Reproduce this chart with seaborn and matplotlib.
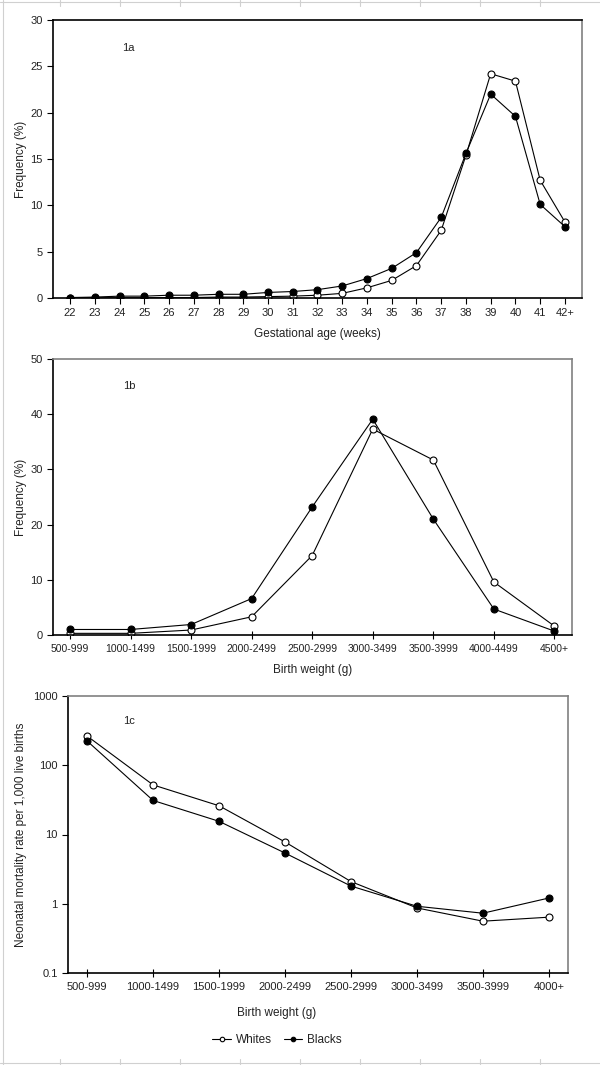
import numpy as np
import pandas as pd
import matplotlib
matplotlib.use('Agg')
import matplotlib.pyplot as plt
from matplotlib.lines import Line2D
import seaborn as sns

# Data
gest_weeks = ['22', '23', '24', '25', '26', '27', '28', '29', '30', '31', '32',
              '33', '34', '35', '36', '37', '38', '39', '40', '41', '42+']
gest_whites = [0.02, 0.02, 0.03, 0.03, 0.05, 0.05, 0.1, 0.1, 0.15, 0.2, 0.3,
               0.5, 1.1, 1.9, 3.5, 7.3, 15.4, 24.2, 23.4, 12.7, 8.2]
gest_blacks = [0.05, 0.1, 0.2, 0.2, 0.3, 0.3, 0.4, 0.4, 0.6, 0.7, 0.9,
               1.3, 2.1, 3.2, 4.9, 8.7, 15.6, 22.0, 19.6, 10.1, 7.7]

bw_groups = ['500-999', '1000-1499', '1500-1999', '2000-2499', '2500-2999',
             '3000-3499', '3500-3999', '4000-4499', '4500+']
bw_whites = [0.3, 0.3, 0.9, 3.3, 14.4, 37.3, 31.7, 9.6, 1.6]
bw_blacks = [1.0, 1.0, 1.9, 6.6, 23.2, 39.1, 21.0, 4.7, 0.7]

nmr_groups = ['500-999', '1000-1499', '1500-1999', '2000-2499', '2500-2999',
              '3000-3499', '3500-3999', '4000+']
nmr_whites = [264, 52, 26, 7.8, 2.09, 0.87, 0.56, 0.64]
nmr_blacks = [224, 31, 15.5, 5.4, 1.80, 0.92, 0.73, 1.21]

sns.set_style('white')
plt.rcParams['font.family'] = ['Liberation Sans', 'DejaVu Sans']
plt.rcParams['font.size'] = 8
txt = '#222222'

fig = plt.figure(figsize=(6, 10.65), dpi=100)
W, H = 600, 1065

# faint spreadsheet cell borders behind the chart
grid_c = '#d0d0d0'
fig.add_artist(Line2D([0, 1], [1 - 1.5 / H, 1 - 1.5 / H], color=grid_c, lw=0.8))
fig.add_artist(Line2D([0, 1], [2.5 / H, 2.5 / H], color=grid_c, lw=0.8))
fig.add_artist(Line2D([2.5 / W, 2.5 / W], [0, 1], color=grid_c, lw=0.8))
for gx in range(60, 600, 60):
    fig.add_artist(Line2D([gx / W, gx / W], [1, 1 - 6 / H], color=grid_c, lw=0.8))
    fig.add_artist(Line2D([gx / W, gx / W], [0, 6 / H], color=grid_c, lw=0.8))


def add_ax(l, t, r, b):
    return fig.add_axes([l / W, 1 - b / H, (r - l) / W, (b - t) / H])


def draw(ax, cats, whites, blacks):
    df = pd.DataFrame({'x': cats, 'Whites': whites, 'Blacks': blacks})
    sns.lineplot(data=df, x='x', y='Whites', ax=ax, sort=False, color='black',
                 lw=0.8, marker='o', markersize=5, markerfacecolor='white',
                 markeredgecolor='black', markeredgewidth=0.8, label='Whites')
    sns.lineplot(data=df, x='x', y='Blacks', ax=ax, sort=False, color='black',
                 lw=0.8, marker='o', markersize=5, markerfacecolor='black',
                 markeredgecolor='black', markeredgewidth=0.8, label='Blacks')
    ax.get_legend().remove()
    for s in ['left', 'bottom']:
        ax.spines[s].set_color('black')
        ax.spines[s].set_linewidth(1.2)
    for s in ['top', 'right']:
        ax.spines[s].set_color('#808080')
        ax.spines[s].set_linewidth(1.2)
    ax.tick_params(axis='y', direction='out', length=4, width=0.8,
                   colors='black', labelcolor=txt, labelsize=8, left=True)
    ax.tick_params(axis='x', direction='inout', length=6, width=0.8,
                   colors='black', labelcolor=txt, labelsize=8, bottom=True)


# 1a
ax1 = add_ax(53, 20, 582, 298)
draw(ax1, gest_weeks, gest_whites, gest_blacks)
ax1.spines['top'].set_color('black')
ax1.set_xlim(-0.69, 20.69)
ax1.set_ylim(0, 30)
ax1.set_yticks(range(0, 31, 5))
ax1.tick_params(axis='x', direction='out', length=4)
ax1.set_xlabel('Gestational age (weeks)', color=txt, fontsize=8.5, labelpad=7)
ax1.set_ylabel('Frequency (%)', color=txt, fontsize=8.5, labelpad=2)
ax1.text(0.142, 0.899, '1a', transform=ax1.transAxes, color=txt, fontsize=8,
         ha='center', va='center')

# 1b
ax2 = add_ax(53, 359, 572, 635)
draw(ax2, bw_groups, bw_whites, bw_blacks)
ax2.set_xlim(-0.28, 8.29)
ax2.set_ylim(0, 50)
ax2.set_yticks(range(0, 51, 10))
ax2.set_xlabel('Birth weight (g)', color=txt, fontsize=8.5, labelpad=7)
ax2.set_ylabel('Frequency (%)', color=txt, fontsize=8.5, labelpad=2)
ax2.tick_params(axis='x', labelsize=7.5)
ax2.text(0.147, 0.903, '1b', transform=ax2.transAxes, color=txt, fontsize=8,
         ha='center', va='center')

# 1c
ax3 = add_ax(68, 696, 568, 973)
draw(ax3, nmr_groups, nmr_whites, nmr_blacks)
ax3.set_yscale('log')
ax3.set_xlim(-0.29, 7.29)
ax3.set_ylim(0.1, 1000)
ax3.set_yticks([0.1, 1, 10, 100, 1000])
ax3.set_yticklabels(['0.1', '1', '10', '100', '1000'])
ax3.minorticks_off()
ax3.set_xlabel('Birth weight (g)', color=txt, fontsize=8.5)
ax3.xaxis.set_label_coords(0.417, -(1013 - 973) / 277, transform=ax3.transAxes)
ax3.xaxis.label.set_va('center')
ax3.set_ylabel('Neonatal mortality rate per 1,000 live births', color=txt,
               fontsize=8.5, labelpad=4)
ax3.text(0.122, 0.909, '1c', transform=ax3.transAxes, color=txt, fontsize=8,
         ha='center', va='center')

handles, labels = ax3.get_legend_handles_labels()
fig.legend(handles, labels, loc='center', bbox_to_anchor=(277 / W, 1 - 1040 / H),
           ncol=2, frameon=False, fontsize=8.5, handlelength=1.6, markerscale=0.65,
           columnspacing=1.0, handletextpad=0.4, labelcolor=txt)

fig.savefig('out.png', dpi=100)
